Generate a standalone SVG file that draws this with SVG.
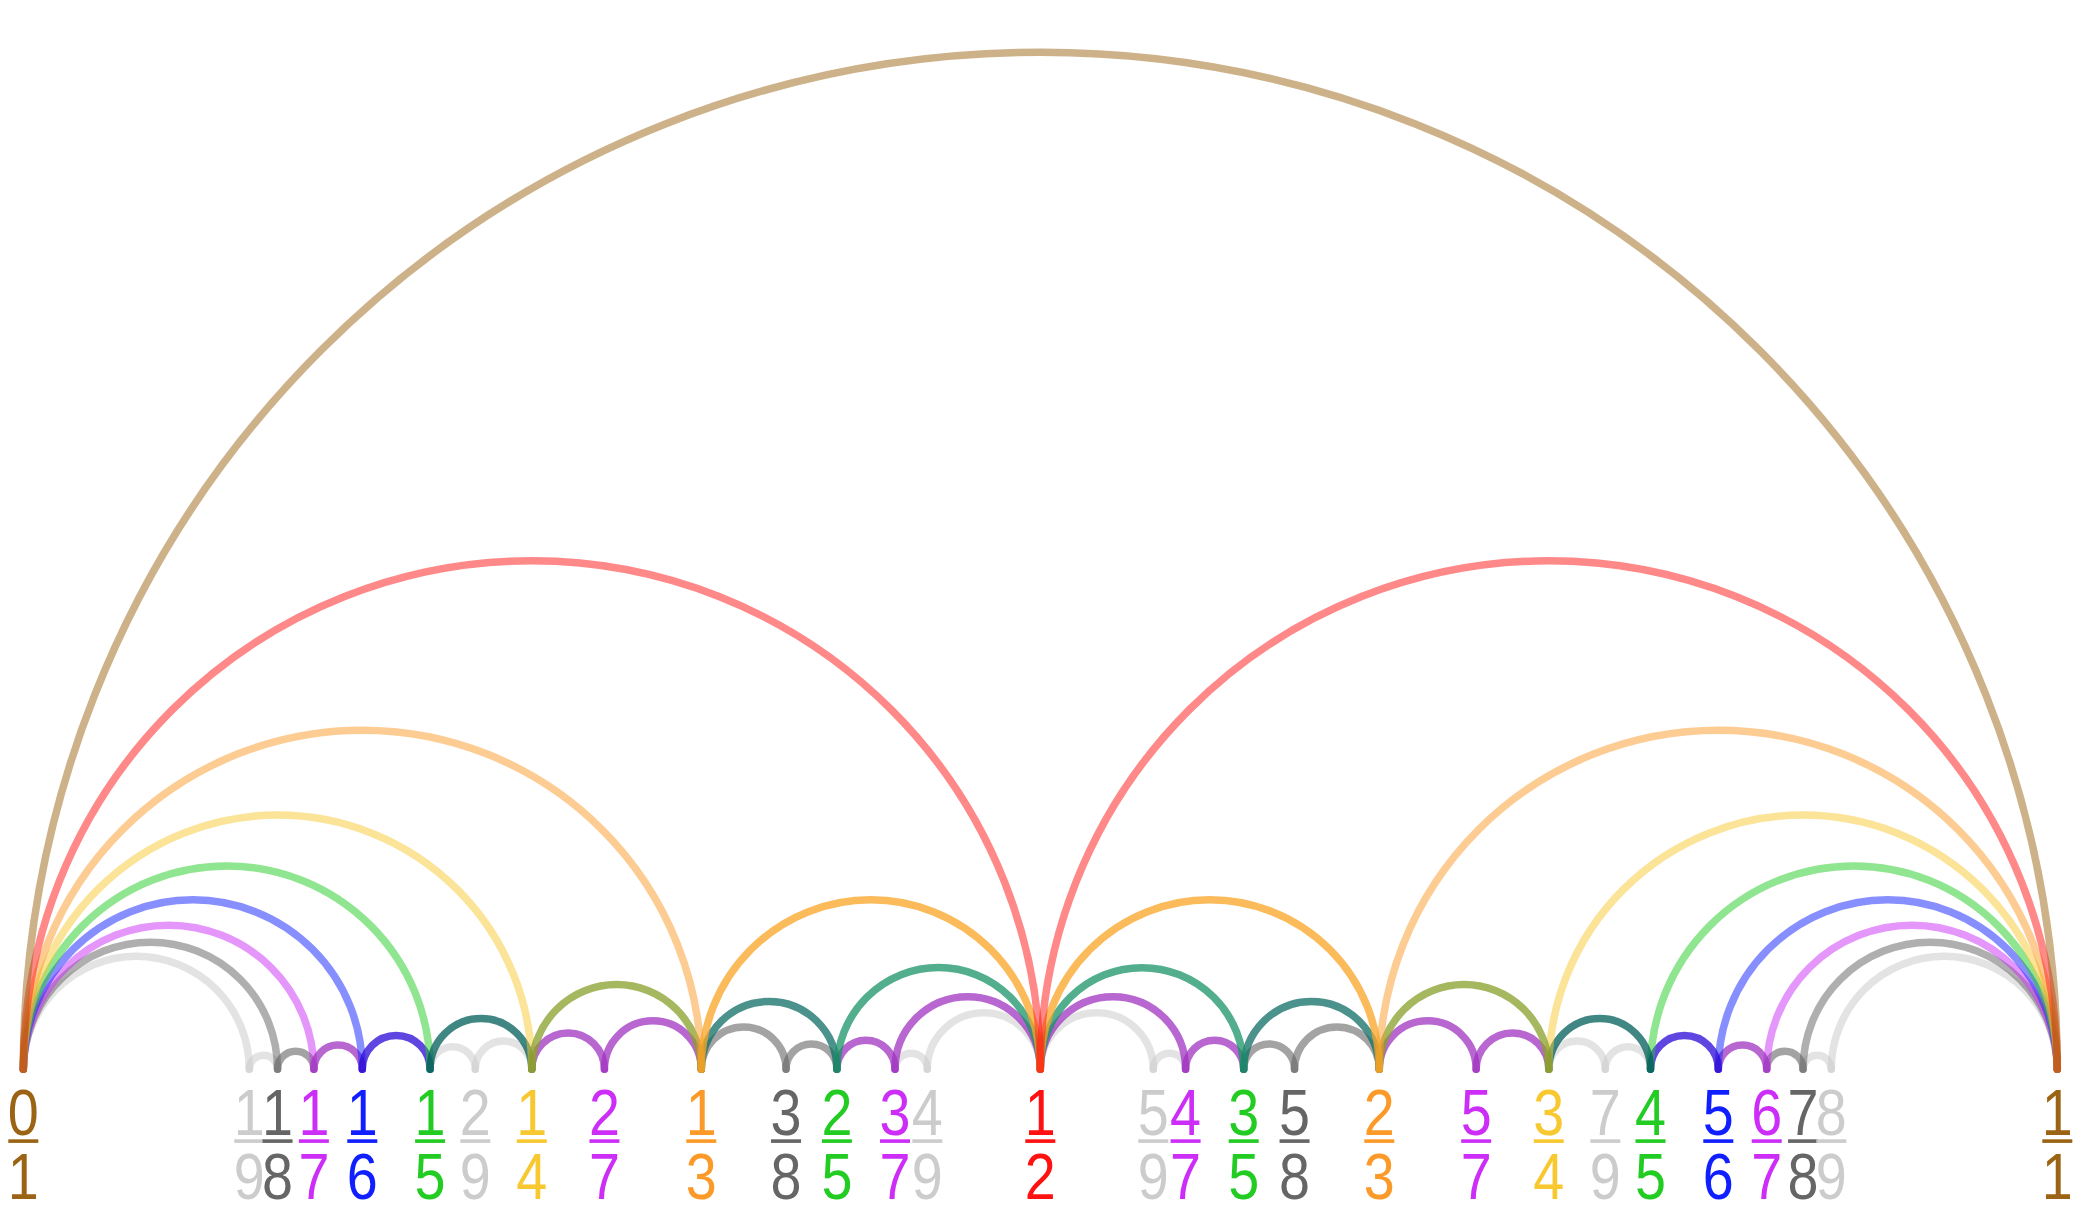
<svg xmlns="http://www.w3.org/2000/svg" width="2081" height="1228" viewBox="0 0 2081 1228">
<style>
.a{fill:none;stroke-width:7.5;stroke-linecap:round}
.h1{stroke:#9b6414;stroke-opacity:.5}
.h2{stroke:#ff1111;stroke-opacity:.5}
.h3{stroke:#fb9a28;stroke-opacity:.5}
.h4{stroke:#f8c830;stroke-opacity:.5}
.h5{stroke:#22cc22;stroke-opacity:.5}
.h6{stroke:#0f1fff;stroke-opacity:.5}
.h7{stroke:#cc2ef8;stroke-opacity:.5}
.h8{stroke:#666666;stroke-opacity:.52}
.h9{stroke:#cccccc;stroke-opacity:.55}
.i3{stroke:#faa424;stroke-opacity:.75}
.i4{stroke:#88a02a;stroke-opacity:.75}
.i5a{stroke:#005e5a;stroke-opacity:.75}
.i5b{stroke:#0f6d66;stroke-opacity:.75}
.i5c{stroke:#189366;stroke-opacity:.75}
.i6{stroke:#2a08d7;stroke-opacity:.75}
.i7{stroke:#a033c0;stroke-opacity:.75}
.i8{stroke:#666666;stroke-opacity:.6}
.i9{stroke:#cccccc;stroke-opacity:.55}
.c1{fill:#9b6414}.c2{fill:#ff1111}.c3{fill:#fb9a28}.c4{fill:#f8c830}.c5{fill:#22cc22}
.c6{fill:#0f1fff}.c7{fill:#cc2ef8}.c8{fill:#666666}.c9{fill:#cccccc}
text{font-family:"Liberation Sans",Arial,Helvetica,sans-serif;font-size:64px;text-anchor:middle}
</style>
<g id="connectors">
<path class="a h9" d="M23.3 1069.3A113 113 0 0 1 249.3 1069.3"/>
<path class="a h9" d="M1831.3 1069.3A113 113 0 0 1 2057.3 1069.3"/>
<path class="a i9" d="M249.3 1069.3A14.12 14.12 0 0 1 277.55 1069.3"/>
<path class="a i9" d="M1803.05 1069.3A14.12 14.12 0 0 1 1831.3 1069.3"/>
<path class="a i9" d="M430.1 1069.3A22.6 22.6 0 0 1 475.3 1069.3"/>
<path class="a i9" d="M475.3 1069.3A28.25 28.25 0 0 1 531.8 1069.3"/>
<path class="a i9" d="M1548.8 1069.3A28.25 28.25 0 0 1 1605.3 1069.3"/>
<path class="a i9" d="M1605.3 1069.3A22.6 22.6 0 0 1 1650.5 1069.3"/>
<path class="a i9" d="M895.01 1069.3A16.14 16.14 0 0 1 927.3 1069.3"/>
<path class="a i9" d="M927.3 1069.3A56.5 56.5 0 0 1 1040.3 1069.3"/>
<path class="a i9" d="M1040.3 1069.3A56.5 56.5 0 0 1 1153.3 1069.3"/>
<path class="a i9" d="M1153.3 1069.3A16.14 16.14 0 0 1 1185.59 1069.3"/>
<path class="a h8" d="M23.3 1069.3A127.12 127.12 0 0 1 277.55 1069.3"/>
<path class="a h8" d="M1803.05 1069.3A127.12 127.12 0 0 1 2057.3 1069.3"/>
<path class="a i8" d="M277.55 1069.3A18.16 18.16 0 0 1 313.87 1069.3"/>
<path class="a i8" d="M1766.73 1069.3A18.16 18.16 0 0 1 1803.05 1069.3"/>
<path class="a i8" d="M701.3 1069.3A42.37 42.37 0 0 1 786.05 1069.3"/>
<path class="a i8" d="M786.05 1069.3A25.42 25.42 0 0 1 836.9 1069.3"/>
<path class="a i8" d="M1243.7 1069.3A25.42 25.42 0 0 1 1294.55 1069.3"/>
<path class="a i8" d="M1294.55 1069.3A42.37 42.37 0 0 1 1379.3 1069.3"/>
<path class="a h7" d="M23.3 1069.3A145.29 145.29 0 0 1 313.87 1069.3"/>
<path class="a h7" d="M1766.73 1069.3A145.29 145.29 0 0 1 2057.3 1069.3"/>
<path class="a i7" d="M313.87 1069.3A24.21 24.21 0 0 1 362.3 1069.3"/>
<path class="a i7" d="M1718.3 1069.3A24.21 24.21 0 0 1 1766.73 1069.3"/>
<path class="a i7" d="M531.8 1069.3A36.32 36.32 0 0 1 604.44 1069.3"/>
<path class="a i7" d="M604.44 1069.3A48.43 48.43 0 0 1 701.3 1069.3"/>
<path class="a i7" d="M1379.3 1069.3A48.43 48.43 0 0 1 1476.16 1069.3"/>
<path class="a i7" d="M1476.16 1069.3A36.32 36.32 0 0 1 1548.8 1069.3"/>
<path class="a i7" d="M836.9 1069.3A29.05 29.05 0 0 1 895.01 1069.3"/>
<path class="a i7" d="M895.01 1069.3A72.64 72.64 0 0 1 1040.3 1069.3"/>
<path class="a i7" d="M1040.3 1069.3A72.64 72.64 0 0 1 1185.59 1069.3"/>
<path class="a i7" d="M1185.59 1069.3A29.05 29.05 0 0 1 1243.7 1069.3"/>
<path class="a h6" d="M23.3 1069.3A169.5 169.5 0 0 1 362.3 1069.3"/>
<path class="a h6" d="M1718.3 1069.3A169.5 169.5 0 0 1 2057.3 1069.3"/>
<path class="a i6" d="M362.3 1069.3A33.9 33.9 0 0 1 430.1 1069.3"/>
<path class="a i6" d="M1650.5 1069.3A33.9 33.9 0 0 1 1718.3 1069.3"/>
<path class="a h5" d="M23.3 1069.3A203.4 203.4 0 0 1 430.1 1069.3"/>
<path class="a h5" d="M1650.5 1069.3A203.4 203.4 0 0 1 2057.3 1069.3"/>
<path class="a i5a" d="M430.1 1069.3A50.85 50.85 0 0 1 531.8 1069.3"/>
<path class="a i5a" d="M1548.8 1069.3A50.85 50.85 0 0 1 1650.5 1069.3"/>
<path class="a i5b" d="M701.3 1069.3A67.8 67.8 0 0 1 836.9 1069.3"/>
<path class="a i5b" d="M1243.7 1069.3A67.8 67.8 0 0 1 1379.3 1069.3"/>
<path class="a i5c" d="M836.9 1069.3A101.7 101.7 0 0 1 1040.3 1069.3"/>
<path class="a i5c" d="M1040.3 1069.3A101.7 101.7 0 0 1 1243.7 1069.3"/>
<path class="a h4" d="M23.3 1069.3A254.25 254.25 0 0 1 531.8 1069.3"/>
<path class="a h4" d="M1548.8 1069.3A254.25 254.25 0 0 1 2057.3 1069.3"/>
<path class="a i4" d="M531.8 1069.3A84.75 84.75 0 0 1 701.3 1069.3"/>
<path class="a i4" d="M1379.3 1069.3A84.75 84.75 0 0 1 1548.8 1069.3"/>
<path class="a h3" d="M23.3 1069.3A339 339 0 0 1 701.3 1069.3"/>
<path class="a h3" d="M1379.3 1069.3A339 339 0 0 1 2057.3 1069.3"/>
<path class="a i3" d="M701.3 1069.3A169.5 169.5 0 0 1 1040.3 1069.3"/>
<path class="a i3" d="M1040.3 1069.3A169.5 169.5 0 0 1 1379.3 1069.3"/>
<path class="a h2" d="M23.3 1069.3A508.5 508.5 0 0 1 1040.3 1069.3"/>
<path class="a h2" d="M1040.3 1069.3A508.5 508.5 0 0 1 2057.3 1069.3"/>
<path class="a h1" d="M23.3 1069.3A1017 1017 0 0 1 2057.3 1069.3"/>
</g>
<g id="f0-1" class="c1" transform="translate(23.3 0)"><text transform="scale(.87 1)" y="1135.5">0</text><rect x="-15" y="1139.3" width="30" height="3.6"/><text transform="scale(.87 1)" y="1199.3">1</text></g>
<g id="f1-9" class="c9" transform="translate(249.3 0)"><text transform="scale(.87 1)" y="1135.5">1</text><rect x="-15" y="1139.3" width="30" height="3.6"/><text transform="scale(.87 1)" y="1199.3">9</text></g>
<g id="f1-8" class="c8" transform="translate(277.55 0)"><text transform="scale(.87 1)" y="1135.5">1</text><rect x="-15" y="1139.3" width="30" height="3.6"/><text transform="scale(.87 1)" y="1199.3">8</text></g>
<g id="f1-7" class="c7" transform="translate(313.87 0)"><text transform="scale(.87 1)" y="1135.5">1</text><rect x="-15" y="1139.3" width="30" height="3.6"/><text transform="scale(.87 1)" y="1199.3">7</text></g>
<g id="f1-6" class="c6" transform="translate(362.3 0)"><text transform="scale(.87 1)" y="1135.5">1</text><rect x="-15" y="1139.3" width="30" height="3.6"/><text transform="scale(.87 1)" y="1199.3">6</text></g>
<g id="f1-5" class="c5" transform="translate(430.1 0)"><text transform="scale(.87 1)" y="1135.5">1</text><rect x="-15" y="1139.3" width="30" height="3.6"/><text transform="scale(.87 1)" y="1199.3">5</text></g>
<g id="f2-9" class="c9" transform="translate(475.3 0)"><text transform="scale(.87 1)" y="1135.5">2</text><rect x="-15" y="1139.3" width="30" height="3.6"/><text transform="scale(.87 1)" y="1199.3">9</text></g>
<g id="f1-4" class="c4" transform="translate(531.8 0)"><text transform="scale(.87 1)" y="1135.5">1</text><rect x="-15" y="1139.3" width="30" height="3.6"/><text transform="scale(.87 1)" y="1199.3">4</text></g>
<g id="f2-7" class="c7" transform="translate(604.44 0)"><text transform="scale(.87 1)" y="1135.5">2</text><rect x="-15" y="1139.3" width="30" height="3.6"/><text transform="scale(.87 1)" y="1199.3">7</text></g>
<g id="f1-3" class="c3" transform="translate(701.3 0)"><text transform="scale(.87 1)" y="1135.5">1</text><rect x="-15" y="1139.3" width="30" height="3.6"/><text transform="scale(.87 1)" y="1199.3">3</text></g>
<g id="f3-8" class="c8" transform="translate(786.05 0)"><text transform="scale(.87 1)" y="1135.5">3</text><rect x="-15" y="1139.3" width="30" height="3.6"/><text transform="scale(.87 1)" y="1199.3">8</text></g>
<g id="f2-5" class="c5" transform="translate(836.9 0)"><text transform="scale(.87 1)" y="1135.5">2</text><rect x="-15" y="1139.3" width="30" height="3.6"/><text transform="scale(.87 1)" y="1199.3">5</text></g>
<g id="f3-7" class="c7" transform="translate(895.01 0)"><text transform="scale(.87 1)" y="1135.5">3</text><rect x="-15" y="1139.3" width="30" height="3.6"/><text transform="scale(.87 1)" y="1199.3">7</text></g>
<g id="f4-9" class="c9" transform="translate(927.3 0)"><text transform="scale(.87 1)" y="1135.5">4</text><rect x="-15" y="1139.3" width="30" height="3.6"/><text transform="scale(.87 1)" y="1199.3">9</text></g>
<g id="f1-2" class="c2" transform="translate(1040.3 0)"><text transform="scale(.87 1)" y="1135.5">1</text><rect x="-15" y="1139.3" width="30" height="3.6"/><text transform="scale(.87 1)" y="1199.3">2</text></g>
<g id="f5-9" class="c9" transform="translate(1153.3 0)"><text transform="scale(.87 1)" y="1135.5">5</text><rect x="-15" y="1139.3" width="30" height="3.6"/><text transform="scale(.87 1)" y="1199.3">9</text></g>
<g id="f4-7" class="c7" transform="translate(1185.59 0)"><text transform="scale(.87 1)" y="1135.5">4</text><rect x="-15" y="1139.3" width="30" height="3.6"/><text transform="scale(.87 1)" y="1199.3">7</text></g>
<g id="f3-5" class="c5" transform="translate(1243.7 0)"><text transform="scale(.87 1)" y="1135.5">3</text><rect x="-15" y="1139.3" width="30" height="3.6"/><text transform="scale(.87 1)" y="1199.3">5</text></g>
<g id="f5-8" class="c8" transform="translate(1294.55 0)"><text transform="scale(.87 1)" y="1135.5">5</text><rect x="-15" y="1139.3" width="30" height="3.6"/><text transform="scale(.87 1)" y="1199.3">8</text></g>
<g id="f2-3" class="c3" transform="translate(1379.3 0)"><text transform="scale(.87 1)" y="1135.5">2</text><rect x="-15" y="1139.3" width="30" height="3.6"/><text transform="scale(.87 1)" y="1199.3">3</text></g>
<g id="f5-7" class="c7" transform="translate(1476.16 0)"><text transform="scale(.87 1)" y="1135.5">5</text><rect x="-15" y="1139.3" width="30" height="3.6"/><text transform="scale(.87 1)" y="1199.3">7</text></g>
<g id="f3-4" class="c4" transform="translate(1548.8 0)"><text transform="scale(.87 1)" y="1135.5">3</text><rect x="-15" y="1139.3" width="30" height="3.6"/><text transform="scale(.87 1)" y="1199.3">4</text></g>
<g id="f7-9" class="c9" transform="translate(1605.3 0)"><text transform="scale(.87 1)" y="1135.5">7</text><rect x="-15" y="1139.3" width="30" height="3.6"/><text transform="scale(.87 1)" y="1199.3">9</text></g>
<g id="f4-5" class="c5" transform="translate(1650.5 0)"><text transform="scale(.87 1)" y="1135.5">4</text><rect x="-15" y="1139.3" width="30" height="3.6"/><text transform="scale(.87 1)" y="1199.3">5</text></g>
<g id="f5-6" class="c6" transform="translate(1718.3 0)"><text transform="scale(.87 1)" y="1135.5">5</text><rect x="-15" y="1139.3" width="30" height="3.6"/><text transform="scale(.87 1)" y="1199.3">6</text></g>
<g id="f6-7" class="c7" transform="translate(1766.73 0)"><text transform="scale(.87 1)" y="1135.5">6</text><rect x="-15" y="1139.3" width="30" height="3.6"/><text transform="scale(.87 1)" y="1199.3">7</text></g>
<g id="f7-8" class="c8" transform="translate(1803.05 0)"><text transform="scale(.87 1)" y="1135.5">7</text><rect x="-15" y="1139.3" width="30" height="3.6"/><text transform="scale(.87 1)" y="1199.3">8</text></g>
<g id="f8-9" class="c9" transform="translate(1831.3 0)"><text transform="scale(.87 1)" y="1135.5">8</text><rect x="-15" y="1139.3" width="30" height="3.6"/><text transform="scale(.87 1)" y="1199.3">9</text></g>
<g id="f1-1" class="c1" transform="translate(2057.3 0)"><text transform="scale(.87 1)" y="1135.5">1</text><rect x="-15" y="1139.3" width="30" height="3.6"/><text transform="scale(.87 1)" y="1199.3">1</text></g>
</svg>
